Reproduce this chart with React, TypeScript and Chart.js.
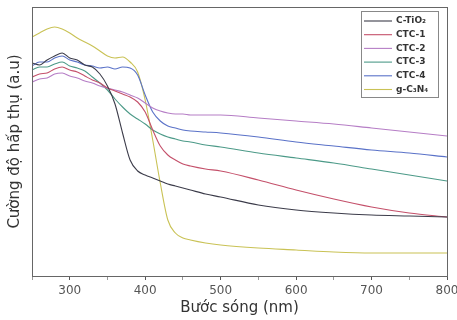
import { useEffect, useRef } from "react";
import { Chart, registerables } from "chart.js";

Chart.register(...registerables);

// Wavelength grid (nm)
const wavelengths = [
  250, 260, 270, 280, 290, 300, 310, 320, 330, 340, 350, 360, 370, 380, 390,
  400, 410, 420, 430, 440, 450, 460, 480, 500, 550, 600, 650, 700, 750, 800,
];

// Absorbance (a.u.) for each sample
const cTiO2 = [
  2.13, 2.11, 2.16, 2.2, 2.23, 2.18, 2.16, 2.11, 2.09, 2.02, 1.9, 1.72, 1.43,
  1.16, 1.05, 1.01, 0.98, 0.95, 0.92, 0.9, 0.88, 0.86, 0.82, 0.79, 0.71, 0.66,
  0.63, 0.61, 0.6, 0.59,
];
const ctc1 = [
  1.99, 2.02, 2.03, 2.07, 2.09, 2.06, 2.04, 2.0, 1.96, 1.93, 1.88, 1.85, 1.82,
  1.79, 1.74, 1.64, 1.46, 1.3, 1.21, 1.16, 1.12, 1.1, 1.07, 1.05, 0.96, 0.86,
  0.77, 0.69, 0.63, 0.59,
];
const ctc2 = [
  1.94, 1.97, 1.98, 2.02, 2.03, 2.0, 1.98, 1.95, 1.93, 1.9, 1.88, 1.86, 1.84,
  1.81, 1.78, 1.73, 1.68, 1.65, 1.63, 1.62, 1.62, 1.61, 1.61, 1.61, 1.58, 1.55,
  1.52, 1.48, 1.44, 1.4,
];
const ctc3 = [
  2.06, 2.09, 2.09, 2.12, 2.14, 2.1, 2.08, 2.05, 1.99, 1.93, 1.86, 1.77, 1.69,
  1.62, 1.57, 1.52, 1.46, 1.42, 1.39, 1.37, 1.35, 1.34, 1.31, 1.29, 1.23, 1.18,
  1.13, 1.07, 1.01, 0.95,
];
const ctc4 = [
  2.1, 2.14, 2.14, 2.18, 2.2, 2.16, 2.14, 2.11, 2.1, 2.08, 2.09, 2.07, 2.09,
  2.08, 2.01, 1.81, 1.64, 1.55, 1.5, 1.48, 1.46, 1.45, 1.44, 1.43, 1.39, 1.34,
  1.3, 1.26, 1.23, 1.19,
];
const gC3N4 = [
  2.39, 2.43, 2.47, 2.49, 2.47, 2.43, 2.38, 2.34, 2.3, 2.25, 2.2, 2.18, 2.19,
  2.14, 2.04, 1.76, 1.36, 0.93, 0.56, 0.43, 0.38, 0.36, 0.33, 0.31, 0.28, 0.26,
  0.24, 0.23, 0.23, 0.23,
];

const seriesNames = ["C-TiO₂", "CTC-1", "CTC-2", "CTC-3", "CTC-4", "g-C₃N₄"];
const seriesValues = [cTiO2, ctc1, ctc2, ctc3, ctc4, gC3N4];
const seriesColors = ["#3c3c4a", "#c4506a", "#b67ec6", "#4c9a88", "#5a72c8", "#c9c255"];

const xLabelStep = 100;

const framePlugin = {
  id: "frameBox",
  afterDraw(chart: any) {
    const { ctx, chartArea: a } = chart;
    ctx.save();
    ctx.strokeStyle = "#666";
    ctx.lineWidth = 1;
    ctx.strokeRect(a.left + 0.5, a.top + 0.5, a.right - a.left, a.bottom - a.top);

    // legend box inside the plot, top-right
    const boxRight = a.right - 9;
    const boxTop = a.top + 4;
    const boxW = 77;
    const boxH = 86;
    const boxLeft = boxRight - boxW;
    ctx.fillStyle = "#fff";
    ctx.fillRect(boxLeft, boxTop, boxW, boxH);
    ctx.strokeStyle = "#888";
    ctx.strokeRect(boxLeft + 0.5, boxTop + 0.5, boxW, boxH);
    ctx.font = "bold 9px 'DejaVu Sans'";
    ctx.textBaseline = "middle";
    ctx.textAlign = "left";
    seriesNames.forEach((name, i) => {
      const y = boxTop + 10 + i * 13.7;
      ctx.strokeStyle = seriesColors[i];
      ctx.lineWidth = 1.1;
      ctx.beginPath();
      ctx.moveTo(boxLeft + 3, y);
      ctx.lineTo(boxLeft + 31, y);
      ctx.stroke();
      ctx.fillStyle = "#333";
      ctx.fillText(name, boxLeft + 35, y);
    });
    ctx.restore();
  },
};

export default function App() {
  const canvasRef = useRef<HTMLCanvasElement | null>(null);

  useEffect(() => {
    if (!canvasRef.current) return;
    const chart = new Chart(canvasRef.current, {
      type: "line",
      data: {
        datasets: seriesNames.map((name, i) => ({
          label: name,
          data: wavelengths.map((w, j) => ({ x: w, y: seriesValues[i][j] })),
          borderColor: seriesColors[i],
          backgroundColor: seriesColors[i],
          borderWidth: 1.1,
          pointRadius: 0,
          cubicInterpolationMode: "monotone" as const,
          fill: false,
        })),
      },
      options: {
        animation: false,
        responsive: false,
        devicePixelRatio: 1,
        layout: { padding: { top: 7, right: 10, left: 0, bottom: 0 } },
        plugins: {
          legend: { display: false },
          tooltip: { enabled: false },
        },
        scales: {
          x: {
            type: "linear",
            min: 250,
            max: 800,
            afterFit(scale: any) {
              scale.height = 44;
              scale.paddingLeft = 0;
              scale.paddingRight = 0;
            },
            border: { display: true, color: "#555", width: 1 },
            grid: {
              drawOnChartArea: false,
              drawTicks: true,
              tickLength: 4,
              tickColor: (c: any) => (c.tick && c.tick.value % xLabelStep === 0 ? "#555" : "#999"),
            },
            ticks: {
              stepSize: 50,
              autoSkip: false,
              maxRotation: 0,
              padding: 4,
              color: "#555",
              font: { family: "'DejaVu Sans'", size: 12 },
              callback: (v: any) => (Number(v) % xLabelStep === 0 ? String(v) : ""),
            },
            title: {
              display: true,
              text: "Bước sóng (nm)",
              color: "#333",
              font: { family: "'DejaVu Sans'", size: 15 },
              padding: { top: 0, bottom: 3 },
            },
          },
          y: {
            type: "linear",
            min: 0,
            max: 2.69,
            afterFit(scale: any) {
              scale.width = 32;
              scale.paddingTop = 0;
              scale.paddingBottom = 0;
            },
            border: { display: true, color: "#555", width: 1 },
            grid: { display: false },
            ticks: { display: false },
            title: {
              display: true,
              text: "Cường độ hấp thụ (a.u)",
              color: "#333",
              font: { family: "'DejaVu Sans'", size: 15 },
              padding: { top: 6, bottom: 0 },
            },
          },
        },
      },
      plugins: [framePlugin],
    });
    return () => chart.destroy();
  }, []);

  return (
    <div style={{ position: "absolute", left: 0, top: 0, width: 457, height: 320, background: "#fff" }}>
      <canvas ref={canvasRef} width={457} height={320} />
    </div>
  );
}
